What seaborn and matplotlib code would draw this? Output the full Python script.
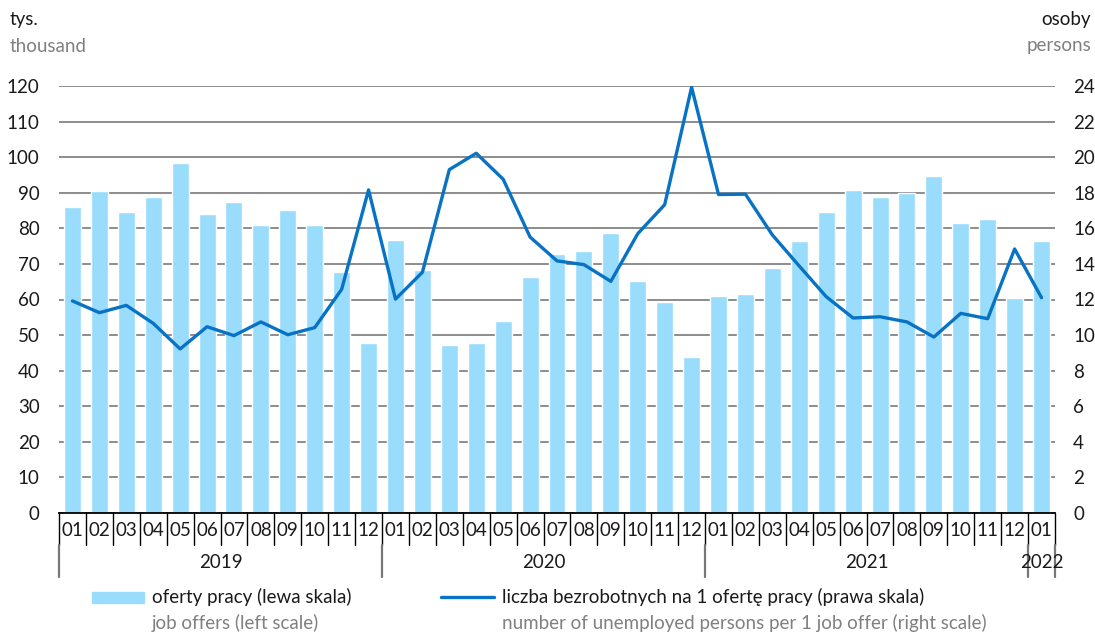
import matplotlib
matplotlib.use("Agg")
import matplotlib.pyplot as plt
import matplotlib.transforms as mtransforms
from matplotlib.patches import Rectangle
from matplotlib.lines import Line2D
import seaborn as sns
import pandas as pd
import numpy as np

# --------------------------------------------------------------
# dane
# --------------------------------------------------------------
lata = ["2019", "2020", "2021", "2022"]
miesiace_w_roku = [12, 12, 12, 1]
miesiace = ["01", "02", "03", "04", "05", "06", "07", "08", "09", "10", "11", "12"] * 3 + ["01"]

oferty = [86.1, 90.5, 84.6, 88.8, 98.4, 84.0, 87.3, 80.8, 85.2, 80.9, 67.7, 47.8,
          76.8, 68.3, 47.2, 47.9, 54.0, 66.3, 72.9, 73.6, 78.7, 65.1, 59.3, 43.9,
          61.0, 61.5, 68.9, 76.4, 84.7, 90.9, 88.7, 89.9, 94.6, 81.5, 82.5, 60.5,
          76.4]

bezrobotni_na_oferte = [11.92, 11.26, 11.67, 10.66, 9.22, 10.47, 9.97, 10.74, 10.02, 10.42, 12.57, 18.16,
                        12.02, 13.53, 19.30, 20.22, 18.76, 15.51, 14.17, 13.96, 13.02, 15.70, 17.33, 23.93,
                        17.90, 17.92, 15.63, 13.88, 12.16, 10.96, 11.03, 10.74, 9.89, 11.22, 10.92, 14.84,
                        12.10]

okres = [f"{r}-{m}" for r, n in zip(lata, miesiace_w_roku) for m in miesiace[:n]]
df = pd.DataFrame({"okres": okres, "oferty": oferty, "wskaznik": bezrobotni_na_oferte,
                   "poz": np.arange(len(okres))})

KOLOR_SLUPKI = "#9ADCFC"
KOLOR_LINIA = "#0873C4"
SZARY = "#808080"
CZARNY = "#1a1a1a"

sns.set_style("white")
plt.rcParams["font.family"] = ["Lato", "DejaVu Sans"]

W, H = 1095, 634
fig = plt.figure(figsize=(W / 100, H / 100), dpi=100)
x0, x1, y_top, y_bot = 59, 1055, 86, 513
ax = fig.add_axes([x0 / W, (H - y_bot) / H, (x1 - x0) / W, (y_bot - y_top) / H])

sns.barplot(data=df, x="okres", y="oferty", color=KOLOR_SLUPKI, saturation=1,
            width=0.63, ax=ax, zorder=2)
ax.set_ylim(0, 120)
ax.set_xlim(-0.5, len(okres) - 0.5)
ax.set_yticks(range(0, 121, 10))
ax.yaxis.grid(True, color="#8c8c8c", lw=1.4)
ax.set_axisbelow(True)
ax.set_xlabel("")
ax.set_ylabel("")
ax.set_xticks([])
ax.tick_params(axis="y", length=0, pad=14, labelsize=13.5, labelcolor=CZARNY)
for s in ["top", "left", "right"]:
    ax.spines[s].set_visible(False)
ax.spines["bottom"].set_color("black")
ax.spines["bottom"].set_linewidth(1.3)

ax2 = ax.twinx()
sns.lineplot(data=df, x="poz", y="wskaznik", color=KOLOR_LINIA, lw=2.4, ax=ax2)
ax2.set_ylim(0, 24)
ax2.set_xlim(-0.5, len(okres) - 0.5)
ax2.set_yticks(range(0, 25, 2))
ax2.set_xlabel("")
ax2.set_ylabel("")
ax2.tick_params(axis="y", length=0, pad=13, labelsize=13.5, labelcolor=CZARNY)
for s in ["top", "left", "right", "bottom"]:
    ax2.spines[s].set_visible(False)

# --------------------------------------------------------------
# os X: miesiace i lata
# --------------------------------------------------------------
tr = mtransforms.blended_transform_factory(ax.transData, fig.transFigure)
fy = lambda py: (H - py) / H

for i, m in enumerate(miesiace):
    ax.text(i, fy(531), m, transform=tr, ha="center", va="center", fontsize=13.5, color=CZARNY)
for i in range(len(okres) + 1):
    ax.add_line(Line2D([i - 0.5, i - 0.5], [fy(513), fy(545)], transform=tr,
                       color="black", lw=1.0, clip_on=False))

start = 0
granice = [0]
for rok, n in zip(lata, miesiace_w_roku):
    ax.text(start + (n - 1) / 2, fy(563), rok, transform=tr, ha="center", va="center",
            fontsize=13.5, color=CZARNY)
    start += n
    granice.append(start)
for g in granice:
    ax.add_line(Line2D([g - 0.5, g - 0.5], [fy(545), fy(577)], transform=tr,
                       color="#777777", lw=1.6, clip_on=False))

# --------------------------------------------------------------
# opisy osi i legenda
# --------------------------------------------------------------
fig.text(10 / W, fy(20), "tys.", ha="left", va="center", fontsize=13.5, color=CZARNY)
fig.text(10 / W, fy(46), "thousand", ha="left", va="center", fontsize=13.5, color=SZARY)
fig.text(1091 / W, fy(20), "osoby", ha="right", va="center", fontsize=13.5, color=CZARNY)
fig.text(1091 / W, fy(46), "persons", ha="right", va="center", fontsize=13.5, color=SZARY)

fig.add_artist(Rectangle((92 / W, fy(603)), 52 / W, 11 / H, transform=fig.transFigure,
                         color=KOLOR_SLUPKI))
fig.text(152 / W, fy(597), "oferty pracy (lewa skala)", ha="left", va="center",
         fontsize=13.5, color=CZARNY)
fig.text(152 / W, fy(623), "job offers (left scale)", ha="left", va="center",
         fontsize=13.5, color=SZARY)

fig.add_artist(Line2D([441 / W, 494 / W], [fy(597), fy(597)], transform=fig.transFigure,
                      color=KOLOR_LINIA, lw=2.4))
fig.text(502 / W, fy(597), "liczba bezrobotnych na 1 ofertę pracy (prawa skala)", ha="left",
         va="center", fontsize=13.5, color=CZARNY)
fig.text(502 / W, fy(623), "number of unemployed persons per 1 job offer (right scale)",
         ha="left", va="center", fontsize=13.5, color=SZARY)

fig.savefig("out.png", dpi=100)
